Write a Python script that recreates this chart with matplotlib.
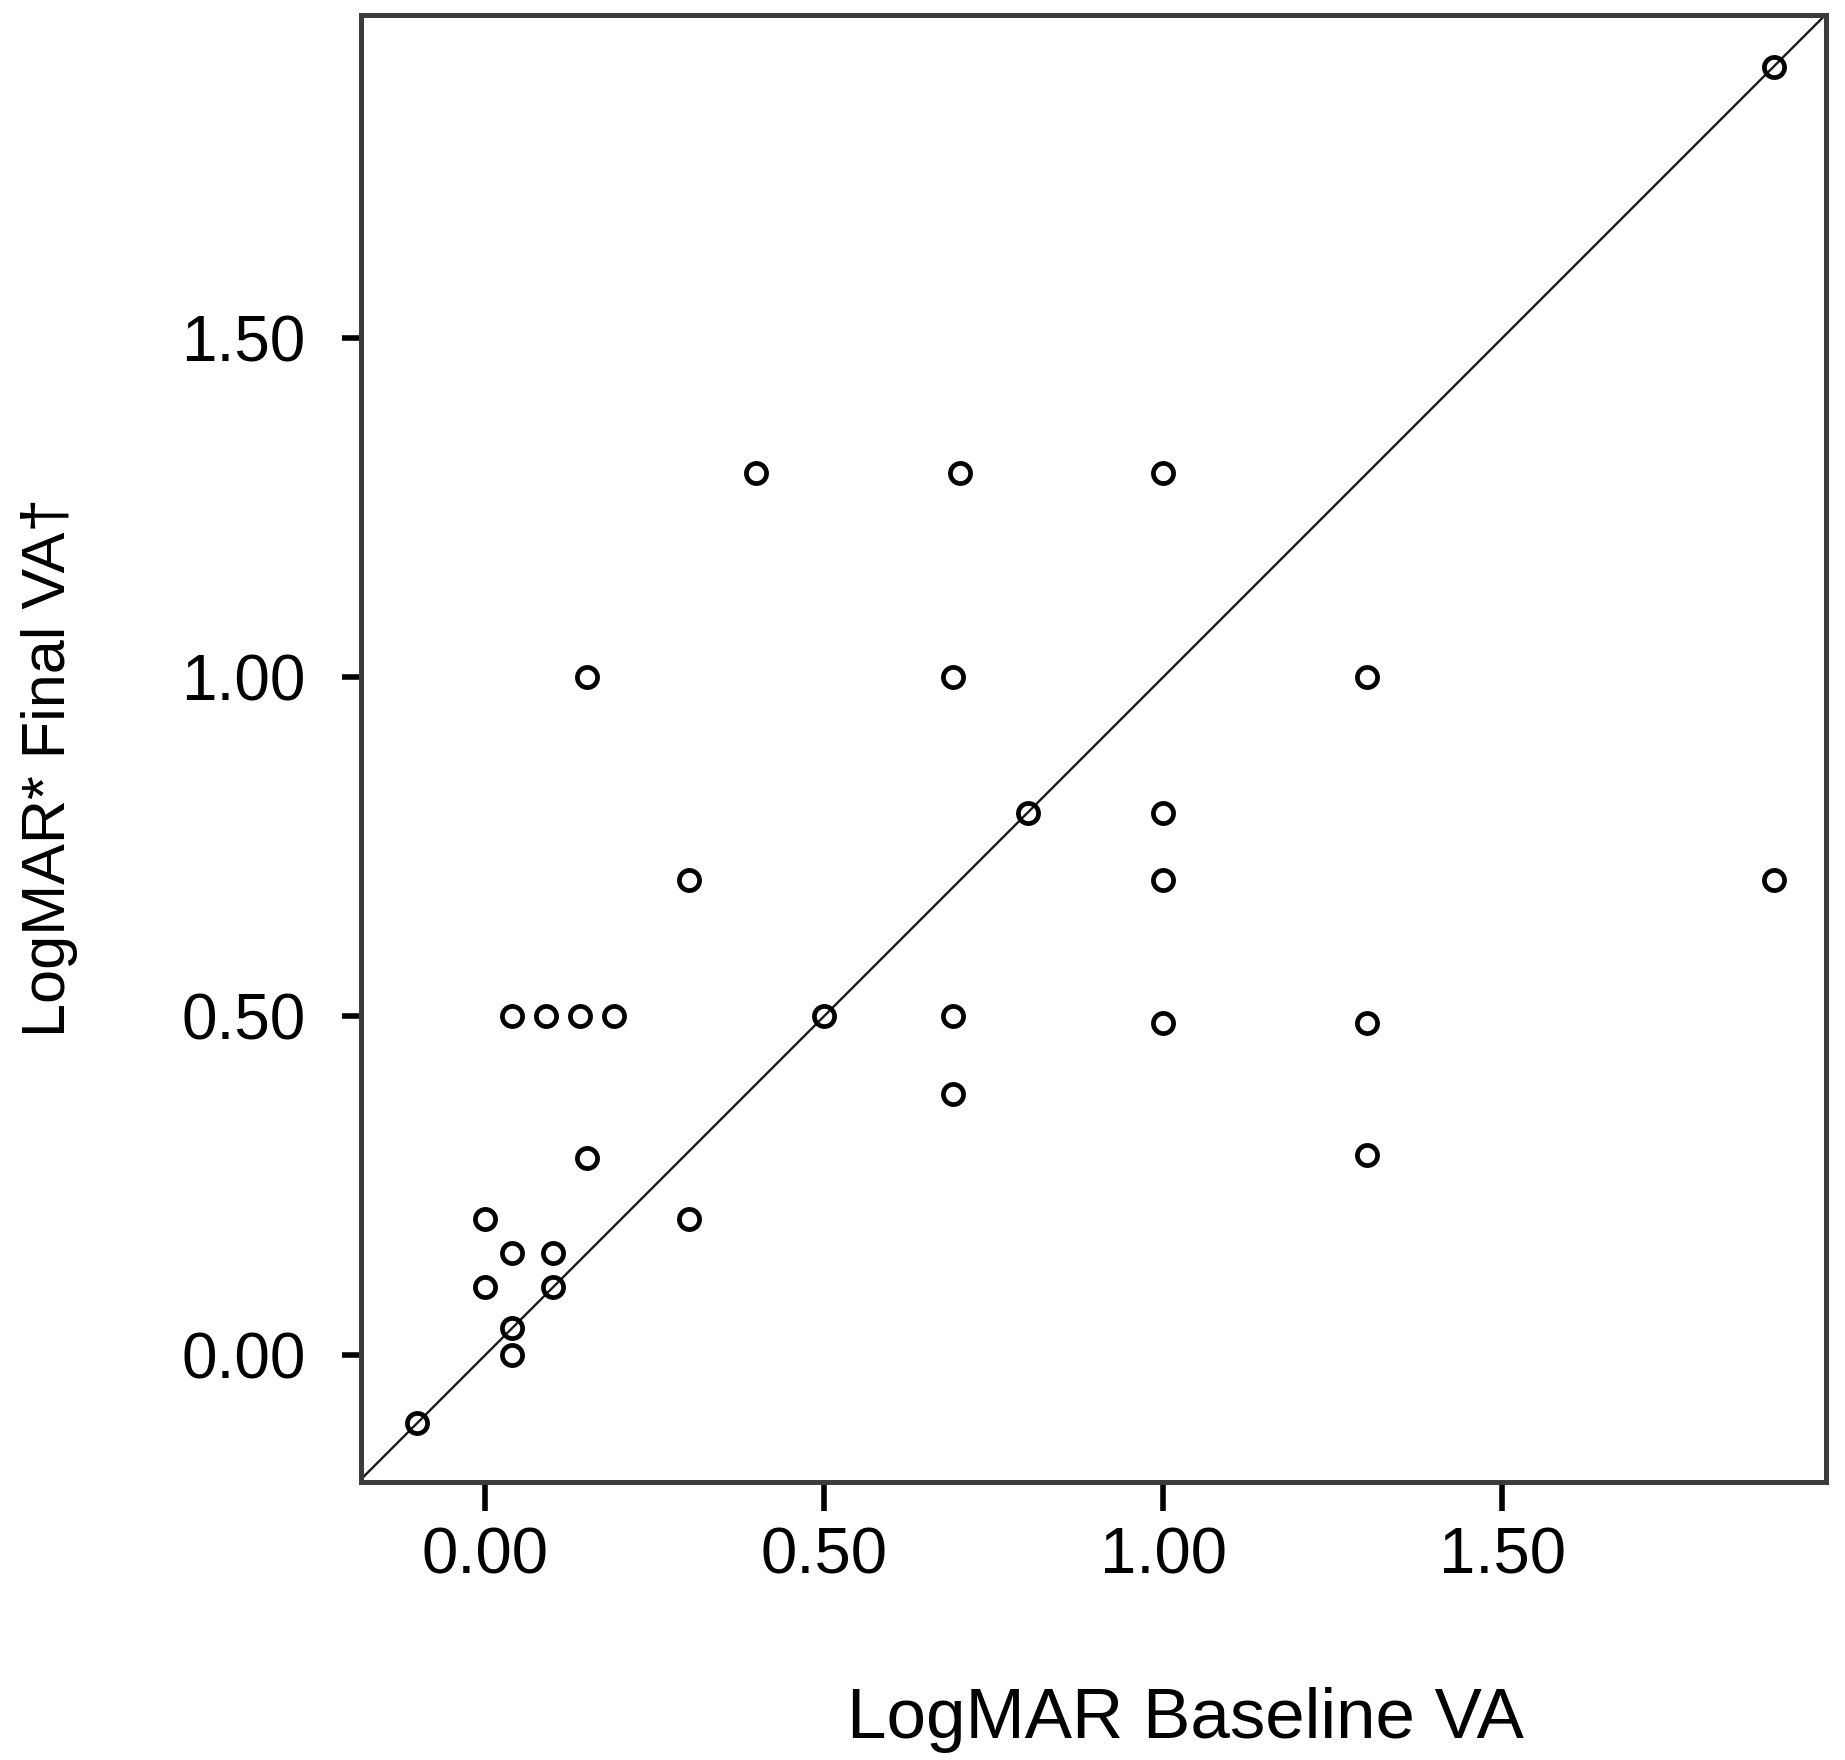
import matplotlib
matplotlib.use("Agg")
import matplotlib.pyplot as plt

# LogMAR baseline vs final visual acuity
baseline_va = [-0.10, 0.00, 0.00, 0.04, 0.04, 0.04, 0.10, 0.10,
               0.04, 0.09, 0.14, 0.19, 0.15, 0.15, 0.30, 0.30,
               0.40, 0.50, 0.70, 0.69, 0.69, 0.69, 0.80, 1.00,
               1.00, 1.00, 1.00, 1.30, 1.30, 1.30, 1.90, 1.90]
final_va = [-0.10, 0.10, 0.20, 0.15, 0.04, 0.00, 0.15, 0.10,
            0.50, 0.50, 0.50, 0.50, 0.29, 1.00, 0.70, 0.20,
            1.30, 0.50, 1.30, 1.00, 0.50, 0.385, 0.80, 1.30,
            0.80, 0.70, 0.49, 1.00, 0.49, 0.295, 0.70, 1.90]
tick_vals = [0.0, 0.5, 1.0, 1.5]
tick_labels = ["0.00", "0.50", "1.00", "1.50"]

plt.rcParams['font.family'] = ['Liberation Sans', 'DejaVu Sans']

fig = plt.figure(figsize=(18.45, 17.6), dpi=100)
ax = fig.add_axes([0.1957, 0.158, 0.794, 0.8335])

ax.plot(baseline_va, final_va, 'o', markerfacecolor='none', markeredgecolor='black',
        markersize=14.5, markeredgewidth=3.4, zorder=3)
ax.axline((0, 0), slope=1, color='#1a1a1a', lw=1.7, zorder=2)

ax.set_xlim(-0.183, 1.977)
ax.set_ylim(-0.187, 1.976)

ax.set_xticks(tick_vals)
ax.set_xticklabels(tick_labels)
ax.set_yticks(tick_vals)
ax.set_yticklabels(tick_labels)
ax.tick_params(axis='x', length=21, width=4, pad=11, labelsize=47, color='black')
ax.tick_params(axis='y', length=14, width=4, pad=26, labelsize=46, color='black')

for s in ax.spines.values():
    s.set_color('#3c3c3c')
    s.set_linewidth(3.6)

ax.set_xlabel("LogMAR Baseline VA", fontsize=51, va='center')
ax.xaxis.set_label_coords(0.563, -0.162)
ax.set_ylabel("LogMAR* Final VA\u2020", fontsize=44, va='center')
ax.yaxis.set_label_coords(-0.213, 0.487)

fig.savefig("out.png", dpi=100)
plt.close(fig)
